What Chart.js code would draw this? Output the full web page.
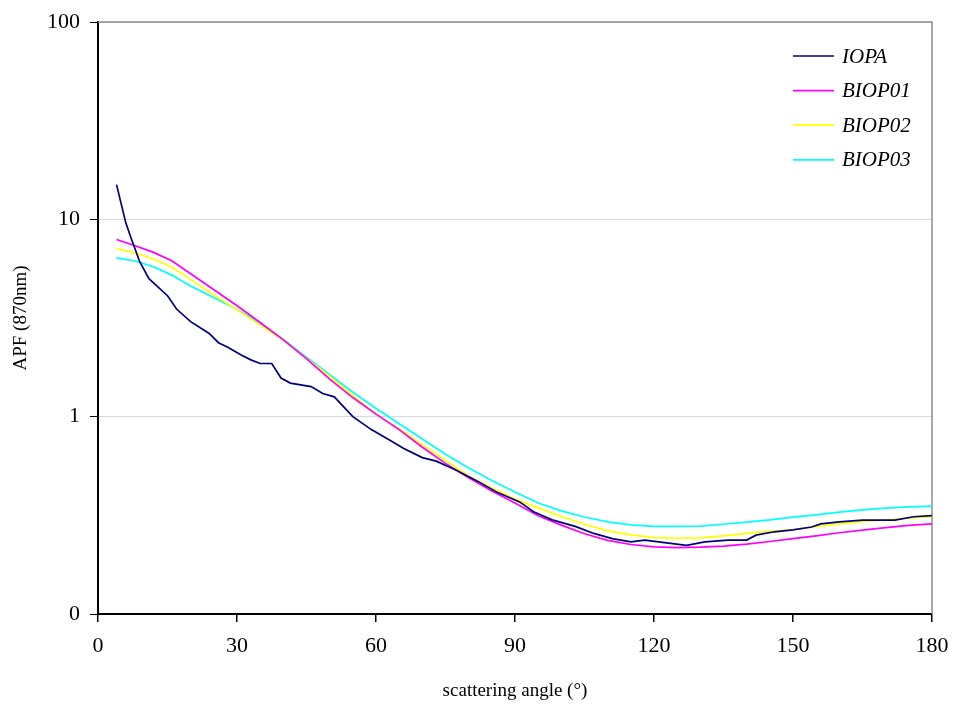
<!DOCTYPE html>
<html>
<head>
<meta charset="utf-8">
<script src="https://cdn.jsdelivr.net/npm/chart.js@4"></script>
<style>
  html, body { margin: 0; padding: 0; background: #fff; }
  #wrap { width: 954px; height: 707px; }
</style>
</head>
<body>
<div id="wrap"><canvas id="myChart" width="954" height="707"></canvas></div>
<script>
// series names and colours
var seriesNames = ["IOPA", "BIOP01", "BIOP02", "BIOP03"];
var seriesColors = ["#000080", "#FF00FF", "#FFFF00", "#00FFFF"];

// IOPA (angle in degrees, APF)
var iopaAngle = [4, 6, 7, 9, 11, 15, 17, 20, 24, 26, 28, 31, 33, 35, 37.5, 39.5, 41.5, 46, 48.5, 51,
  55, 59, 63, 66, 70, 73, 77, 82, 86, 91, 94, 98, 103, 107, 111, 115, 118, 121, 127, 131,
  136, 140, 142, 146, 150, 154, 156, 160, 165, 172, 176, 180];
var iopaValue = [15.0, 9.6, 8.2, 6.1, 5.0, 4.1, 3.5, 3.03, 2.64, 2.37, 2.25, 2.05, 1.94, 1.86, 1.86, 1.57, 1.48, 1.42, 1.31, 1.26,
  1.0, 0.86, 0.76, 0.69, 0.62, 0.595, 0.54, 0.47, 0.415, 0.37, 0.33, 0.30, 0.278, 0.256, 0.241, 0.232, 0.237, 0.232, 0.223, 0.232,
  0.237, 0.237, 0.251, 0.261, 0.267, 0.276, 0.286, 0.293, 0.299, 0.299, 0.311, 0.315];

// BIOP curves share the same angles
var biopAngle = [4, 8, 12, 16, 20, 25, 30, 35, 40, 45, 50, 55, 60, 65, 70, 75, 80, 85, 90, 95,
  100, 105, 110, 115, 120, 125, 130, 135, 140, 145, 150, 155, 160, 165, 170, 175, 180];
var biop01 = [7.9, 7.35, 6.8, 6.15, 5.3, 4.4, 3.65, 3.0, 2.45, 1.97, 1.55, 1.25, 1.03, 0.86, 0.70, 0.58, 0.49, 0.42, 0.365, 0.315,
  0.282, 0.255, 0.236, 0.225, 0.219, 0.217, 0.218, 0.221, 0.226, 0.233, 0.241, 0.249, 0.258, 0.266, 0.274, 0.281, 0.286];
var biop02 = [7.1, 6.75, 6.3, 5.7, 4.95, 4.15, 3.48, 2.91, 2.44, 1.98, 1.6, 1.28, 1.03, 0.87, 0.72, 0.60, 0.50, 0.435, 0.382, 0.345,
  0.312, 0.285, 0.264, 0.252, 0.244, 0.242, 0.243, 0.249, 0.256, 0.262, 0.268, 0.277, 0.286, 0.294, 0.300, 0.306, 0.311];
var biop03 = [6.38, 6.15, 5.75, 5.2, 4.6, 4.0, 3.5, 2.97, 2.46, 2.0, 1.63, 1.33, 1.1, 0.92, 0.77, 0.645, 0.55, 0.475, 0.415, 0.365,
  0.333, 0.31, 0.293, 0.283, 0.278, 0.278, 0.279, 0.285, 0.292, 0.300, 0.310, 0.318, 0.328, 0.337, 0.344, 0.349, 0.352];

var yTicks = [0.1, 1, 10, 100];
var xTicks = [0, 30, 60, 90, 120, 150, 180];

function toPoints(xs, ys) {
  return xs.map(function (x, i) { return { x: x, y: ys[i] }; });
}

var seriesData = [
  toPoints(iopaAngle, iopaValue),
  toPoints(biopAngle, biop01),
  toPoints(biopAngle, biop02),
  toPoints(biopAngle, biop03)
];

var datasets = seriesNames.map(function (name, i) {
  return {
    label: name,
    data: seriesData[i],
    borderColor: seriesColors[i],
    backgroundColor: seriesColors[i],
    borderWidth: 1.7,
    pointRadius: 0,
    tension: 0,
    fill: false
  };
});

var serif = "'Liberation Serif', 'Times New Roman', serif";

// gray frame on top and right of the plot area
const frame = {
  id: "frame",
  beforeDatasetsDraw(chart) {
    const { ctx, chartArea: a } = chart;
    ctx.save();
    ctx.strokeStyle = "#8c8c8c";
    ctx.lineWidth = 1.5;
    ctx.beginPath();
    ctx.moveTo(a.left, a.top);
    ctx.lineTo(a.right, a.top);
    ctx.lineTo(a.right, a.bottom);
    ctx.stroke();
    ctx.restore();
  }
};

// legend drawn inside the plot, top right
const innerLegend = {
  id: "innerLegend",
  afterDraw(chart) {
    const ctx = chart.ctx;
    ctx.save();
    ctx.font = "italic 21px " + serif;
    ctx.textBaseline = "middle";
    ctx.textAlign = "left";
    chart.data.datasets.forEach(function (ds, i) {
      var y = 56 + i * 34.6;
      ctx.strokeStyle = ds.borderColor;
      ctx.lineWidth = 1.7;
      ctx.beginPath();
      ctx.moveTo(793, y);
      ctx.lineTo(834, y);
      ctx.stroke();
      ctx.fillStyle = "#000";
      ctx.fillText(ds.label, 842, y + 1);
    });
    ctx.restore();
  }
};

const config = {
  type: "line",
  data: { datasets: datasets },
  options: {
    responsive: false,
    animation: false,
    layout: { padding: { left: 0, right: 22, top: 22, bottom: 0 } },
    plugins: {
      legend: { display: false },
      tooltip: { enabled: false }
    },
    scales: {
      x: {
        type: "linear",
        min: 0,
        max: 180,
        afterBuildTicks: function (scale) {
          scale.ticks = xTicks.map(function (v) { return { value: v }; });
        },
        afterFit: function (scale) {
          scale.height = 93;
          scale.paddingLeft = 0;
          scale.paddingRight = 0;
        },
        grid: { drawOnChartArea: false, tickColor: "#000", tickLength: 8, lineWidth: 1.5 },
        border: { color: "#000", width: 2 },
        ticks: { color: "#000", font: { family: serif, size: 22 }, padding: 11, maxRotation: 0 },
        title: {
          display: true,
          text: "scattering angle (°)",
          color: "#000",
          font: { family: serif, size: 19 },
          padding: { top: 0, bottom: 5 }
        }
      },
      y: {
        type: "logarithmic",
        min: 0.1,
        max: 100,
        afterBuildTicks: function (scale) {
          scale.ticks = yTicks.map(function (v) { return { value: v }; });
        },
        afterFit: function (scale) {
          scale.width = 98;
          scale.paddingTop = 0;
          scale.paddingBottom = 0;
        },
        grid: { color: "#d9d9d9", lineWidth: 1, tickColor: "#000", tickLength: 8 },
        border: { color: "#000", width: 2 },
        ticks: {
          color: "#000",
          font: { family: serif, size: 22 },
          padding: 10,
          callback: function (v) { return v === 0.1 ? "0" : String(v); }
        },
        title: {
          display: true,
          text: "APF (870nm)",
          color: "#000",
          font: { family: serif, size: 19 },
          padding: { top: 10, bottom: 0 }
        }
      }
    }
  },
  plugins: [frame, innerLegend]
};

var chart = new Chart(document.getElementById("myChart"), config);
</script>
</body>
</html>
